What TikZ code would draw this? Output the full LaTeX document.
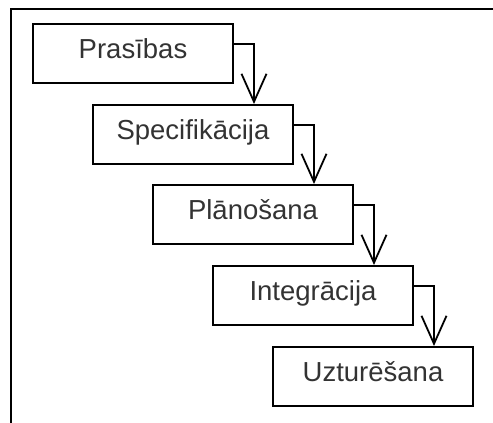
\documentclass[tikz,border=0pt]{standalone}
\usepackage{fontspec}
\setmainfont{Liberation Sans}
\usetikzlibrary{arrows.meta}

\tikzset{
  phase/.style={draw, line width=2pt, rectangle, inner sep=0pt,
    minimum width=200pt, text height=34.5pt, text depth=24.5pt,
    font=\fontsize{27.5}{30}\selectfont, text=black!80},
  flow/.style={draw, line width=2pt,
    -{Straight Barb[length=28pt, width=25pt, line width=1.8pt]}},
  frame/.style={line width=2pt}
}

\begin{document}
\begin{tikzpicture}[x=1pt, y=1pt]
  \useasboundingbox (0,0) rectangle (493,-423);

  % page frame, open to the right and bottom
  \draw[frame] (11,-425) -- (11,-9) -- (495,-9);

  % cascading phases
  \node[phase] (req)   at (133, -53.5)  {Prasības};
  \node[phase] (spec)  at (193, -134.5) {Specifikācija};
  \node[phase] (plan)  at (253, -214.5) {Plānošana};
  \node[phase] (integ) at (313, -295.5) {Integrācija};
  \node[phase] (maint) at (373, -376.5) {Uzturēšana};

  % hand-over arrows between phases
  \draw[flow] ([yshift=9.5pt]req.east)   -| ([xshift=61pt]spec.north);
  \draw[flow] ([yshift=9.5pt]spec.east)  -| ([xshift=61pt]plan.north);
  \draw[flow] ([yshift=9.5pt]plan.east)  -| ([xshift=61pt]integ.north);
  \draw[flow] ([yshift=9.5pt]integ.east) -| ([xshift=61pt]maint.north);
\end{tikzpicture}
\end{document}
